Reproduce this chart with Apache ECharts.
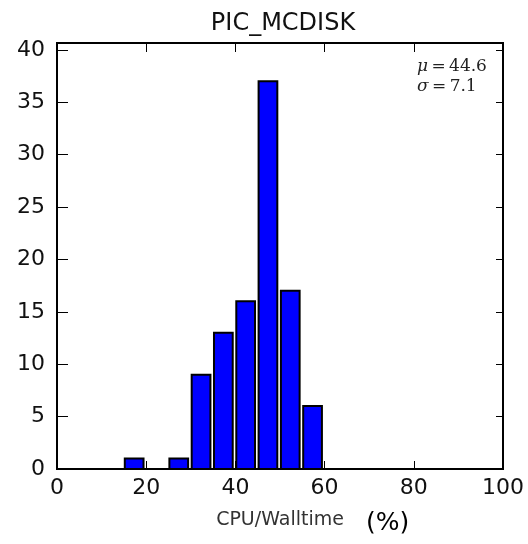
<!DOCTYPE html>
<html>
<head>
<meta charset="utf-8">
<script src="https://cdn.jsdelivr.net/npm/echarts@6/dist/echarts.min.js"></script>
<style>
html,body{margin:0;padding:0;background:#fff;}
#c{width:528px;height:544px;}
</style>
</head>
<body>
<div id="c"></div>
<script>
// Data
var binStarts = [15, 25, 30, 35, 40, 45, 50, 55];
var counts = [1, 1, 9, 13, 16, 37, 17, 6];
var xTicks = [0, 20, 40, 60, 80, 100];
var yTicks = [0, 5, 10, 15, 20, 25, 30, 35, 40];
var titleText = 'PIC_MCDISK';
var xLabel = 'CPU/Walltime';
var unitLabel = '(%)';
var meanText = '44.6';
var sigmaText = '7.1';

var BAR_OFF = 0.2, BAR_W = 4.2;

var chart = echarts.init(document.getElementById('c'), null, {renderer: 'canvas'});
var data = binStarts.map(function (s, i) { return [s, counts[i]]; });
var font = 'DejaVu Sans';
var tickFmt = function (list) {
  return function (v) { return list.indexOf(v) >= 0 ? String(v) : ''; };
};
var TS = '\u2009';

var option = {
  backgroundColor: '#fff',
  animation: false,
  title: {
    text: titleText,
    left: 278,
    textAlign: 'center',
    top: 7,
    textStyle: {fontFamily: font, fontSize: 24, fontWeight: 'normal', color: '#111'}
  },
  grid: {left: 57, right: 25, top: 43, bottom: 75, show: true, borderColor: '#000', borderWidth: 2, backgroundColor: '#fff'},
  xAxis: [{
    type: 'value', min: 0, max: 100, interval: 20, position: 'bottom',
    name: xLabel, nameLocation: 'middle', nameGap: 42,
    nameTextStyle: {fontFamily: font, fontSize: 19, color: '#333'},
    axisLine: {show: true, onZero: false, lineStyle: {color: '#000', width: 2}},
    axisTick: {show: true, inside: true, length: 8, lineStyle: {color: '#000', width: 1}},
    axisLabel: {fontFamily: font, fontSize: 22, color: '#111', margin: 8, formatter: tickFmt(xTicks)},
    splitLine: {show: false}
  }, {
    type: 'value', min: 0, max: 100, interval: 20, position: 'top',
    axisLine: {show: true, onZero: false, lineStyle: {color: '#000', width: 2}},
    axisTick: {show: true, inside: true, length: 9, lineStyle: {color: '#000', width: 1}},
    axisLabel: {show: false},
    splitLine: {show: false}
  }],
  yAxis: [{
    type: 'value', min: 0, max: 40.65, interval: 5, position: 'left',
    axisLine: {show: true, onZero: false, lineStyle: {color: '#000', width: 2}},
    axisTick: {show: true, inside: true, length: 11, lineStyle: {color: '#000', width: 1}},
    axisLabel: {fontFamily: font, fontSize: 22, color: '#111', margin: 12, formatter: tickFmt(yTicks), showMaxLabel: false},
    splitLine: {show: false}
  }, {
    type: 'value', min: 0, max: 40.65, interval: 5, position: 'right',
    axisLine: {show: true, onZero: false, lineStyle: {color: '#000', width: 2}},
    axisTick: {show: true, inside: true, length: 7, lineStyle: {color: '#000', width: 1}},
    axisLabel: {show: false},
    splitLine: {show: false}
  }],
  series: [{
    type: 'custom',
    xAxisIndex: 0, yAxisIndex: 0,
    data: data,
    renderItem: function (params, api) {
      var s = api.value(0), c = api.value(1);
      var p0 = api.coord([s + BAR_OFF, c]);
      var p1 = api.coord([s + BAR_OFF + BAR_W, 0]);
      return {
        type: 'rect',
        shape: {x: p0[0], y: p0[1], width: p1[0] - p0[0], height: p1[1] - p0[1]},
        style: {fill: '#0000ff', stroke: '#000', lineWidth: 2}
      };
    }
  }],
  graphic: [{
    type: 'text', left: 417, top: 58, z: 100,
    style: {
      text: '{i|μ}{n|' + TS + '=' + TS + meanText + '}',
      rich: {
        i: {fontFamily: 'DejaVu Serif', fontStyle: 'italic', fontSize: 17, fill: '#222'},
        n: {fontFamily: 'DejaVu Serif', fontSize: 17, fill: '#222'}
      }
    }
  }, {
    type: 'text', left: 417, top: 78, z: 100,
    style: {
      text: '{i|σ}{n|' + TS + '=' + TS + sigmaText + '}',
      rich: {
        i: {fontFamily: 'DejaVu Serif', fontStyle: 'italic', fontSize: 17, fill: '#222'},
        n: {fontFamily: 'DejaVu Serif', fontSize: 17, fill: '#222'}
      }
    }
  }, {
    type: 'text', left: 366, top: 511, z: 100,
    style: {text: unitLabel, fontFamily: font, fontSize: 25, fill: '#000'}
  }]
};
chart.setOption(option);
</script>
</body>
</html>
